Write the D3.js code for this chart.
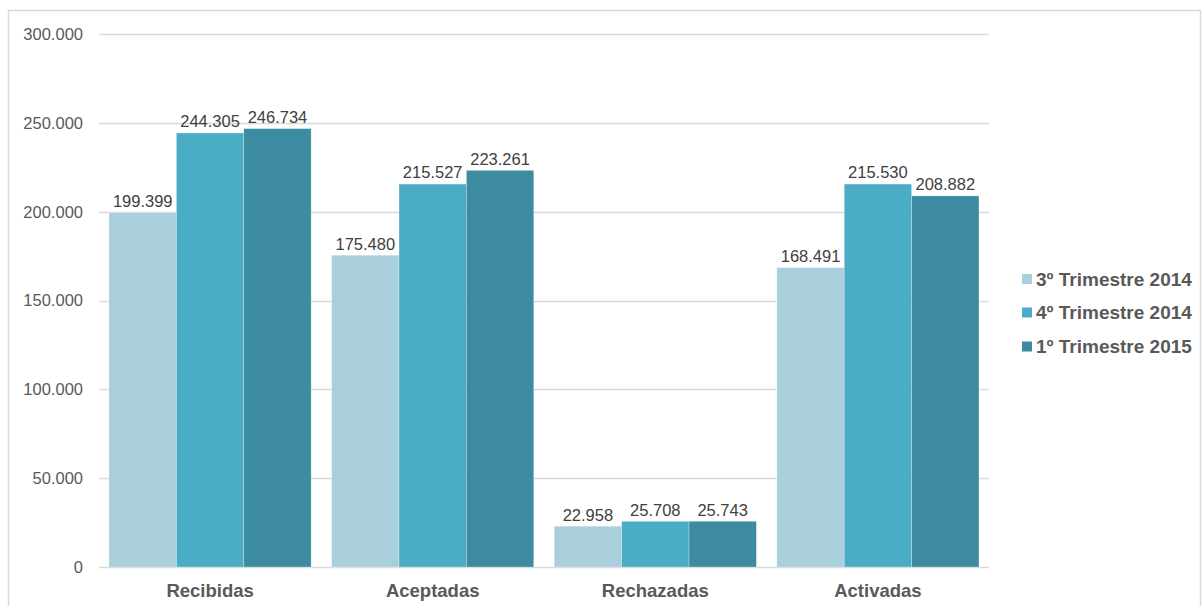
<!DOCTYPE html>
<html><head><meta charset="utf-8">
<script src="https://cdn.jsdelivr.net/npm/d3@7"></script>
<style>body{margin:0;background:#fff}svg{display:block;font-family:"Liberation Sans",Arial,sans-serif}</style>
</head><body><svg id="c" width="1202" height="606"></svg>
<script>
const categories = ["Recibidas","Aceptadas","Rechazadas","Activadas"];
const seriesNames = ["3º Trimestre 2014","4º Trimestre 2014","1º Trimestre 2015"];
const q3_2014 = [199399,175480,22958,168491];
const q4_2014 = [244305,215527,25708,215530];
const q1_2015 = [246734,223261,25743,208882];
const yTicks = [0,50000,100000,150000,200000,250000,300000];
const colors = ["#A9CEDC","#4BACC6","#3C8BA1"];
const seriesValues = [q3_2014,q4_2014,q1_2015];

(function(){
const svg = d3.select("#c");
svg.append("rect").attr("x",8.5).attr("y",10.5).attr("width",1192).attr("height",610)
  .attr("fill","#fff").attr("stroke","#D9D9D9").attr("stroke-width",1.5);

const pL=99,pR=989,pT=34,pB=567;
const y = d3.scaleLinear().domain([0,300000]).range([pB,pT]);
const x0 = d3.scaleBand().domain(categories).range([pL,pR]).paddingInner(0.092).paddingOuter(0.045);
const x1 = d3.scaleBand().domain(d3.range(seriesNames.length)).range([0,x0.bandwidth()]);
const fmt = v => v===0 ? "0" : d3.format(",")(v).replace(/,/g,".");
const fmtD = v => d3.format(",")(v).replace(/,/g,".");

svg.append("g").selectAll("line").data(yTicks).join("line")
  .attr("x1",pL).attr("x2",pR).attr("y1",d=>Math.round(y(d))+0.5).attr("y2",d=>Math.round(y(d))+0.5)
  .attr("stroke","#D9D9D9").attr("stroke-width",1.3);

svg.append("g").selectAll("text").data(yTicks).join("text")
  .attr("x",83).attr("y",d=>y(d)).attr("dy","0.36em").attr("text-anchor","end")
  .attr("font-size",16.5).attr("fill","#595959").text(fmt);

const g = svg.append("g");
categories.forEach((c,ci)=>{
  seriesValues.forEach((arr,si)=>{
    const v = arr[ci];
    const bx = x0(c)+x1(si);
    g.append("rect").attr("x",bx).attr("y",y(v)).attr("width",x1.bandwidth()).attr("height",y(0)-y(v))
      .attr("fill",colors[si]).attr("stroke","#fff").attr("stroke-opacity",0.35).attr("stroke-width",0.8);
    g.append("text").attr("x",bx+x1.bandwidth()/2).attr("y",y(v)-5.7).attr("text-anchor","middle")
      .attr("font-size",16.5).attr("fill","#404040").text(fmtD(v));
  });
});

svg.append("g").selectAll("text").data(categories).join("text")
  .attr("x",d=>x0(d)+x0.bandwidth()/2).attr("y",597).attr("text-anchor","middle")
  .attr("font-size",18.5).attr("font-weight","bold").attr("fill","#595959").text(d=>d);

const lg = svg.append("g");
const ly = [279,312.5,346.5];
seriesNames.forEach((n,i)=>{
  lg.append("rect").attr("x",1022).attr("y",ly[i]-5).attr("width",10).attr("height",10).attr("fill",colors[i]);
  lg.append("text").attr("x",1036).attr("y",ly[i]).attr("dy","0.36em")
    .attr("font-size",19).attr("font-weight","bold").attr("fill","#595959").text(n);
});
})();
</script></body></html>
